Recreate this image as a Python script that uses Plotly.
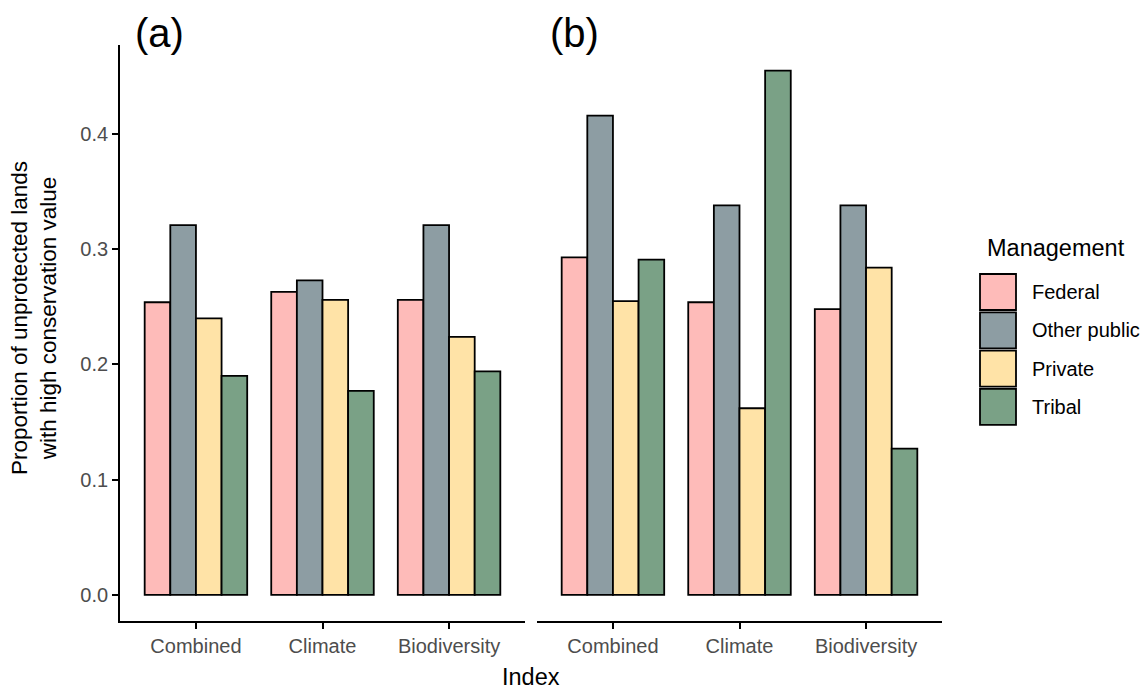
import plotly.graph_objects as go

# ---- data ----
categories = ["Combined", "Climate", "Biodiversity"]
management = ["Federal", "Other public", "Private", "Tribal"]
colors = ["#FEBBB9", "#8D9DA3", "#FFE3A7", "#7AA186"]

# panel (a): values per management class across categories
panel_a = {
    "Federal":      [0.254, 0.263, 0.256],
    "Other public": [0.321, 0.273, 0.321],
    "Private":      [0.240, 0.256, 0.224],
    "Tribal":       [0.190, 0.177, 0.194],
}
# panel (b)
panel_b = {
    "Federal":      [0.293, 0.254, 0.248],
    "Other public": [0.416, 0.338, 0.338],
    "Private":      [0.255, 0.162, 0.284],
    "Tribal":       [0.291, 0.455, 0.127],
}
yticks = [0.0, 0.1, 0.2, 0.3, 0.4]
ytick_text = ["0.0", "0.1", "0.2", "0.3", "0.4"]

# ---- geometry (pixels) ----
W, H = 1147, 693
L, R, T, B = 120, 942, 45, 621
XA_END, XB_START = 525, 537


def px_x(p):
    return (p - L) / (R - L)


def px_y(p):
    return (B - p) / (B - T)


fig = go.Figure()
for name, col in zip(management, colors):
    fig.add_trace(go.Bar(x=categories, y=panel_a[name], name=name,
                         marker=dict(color=col, line=dict(color="black", width=1.8)),
                         xaxis="x", yaxis="y", offsetgroup=name, showlegend=False))
    fig.add_trace(go.Bar(x=categories, y=panel_b[name], name=name,
                         marker=dict(color=col, line=dict(color="black", width=1.8)),
                         xaxis="x2", yaxis="y2", offsetgroup=name, showlegend=False))

tickfont = dict(family="Liberation Sans, Arial, sans-serif", size=20, color="#4d4d4d")
yr = [-0.0227, 0.4773]
xaxis_common = dict(type="category", range=[-0.6, 2.6], showline=True, linecolor="black",
                    linewidth=1.8, ticks="outside", ticklen=6, tickwidth=1.8, tickcolor="black",
                    tickfont=tickfont, showgrid=False, zeroline=False, fixedrange=True)

fig.update_layout(
    width=W, height=H,
    margin=dict(l=L, r=W - R, t=T, b=H - B, pad=0),
    paper_bgcolor="white", plot_bgcolor="white",
    barmode="group", bargap=0.19, bargroupgap=0,
    font=dict(family="Liberation Sans, Arial, sans-serif", color="black"),
    xaxis=dict(domain=[0, px_x(XA_END)], anchor="y", **xaxis_common),
    xaxis2=dict(domain=[px_x(XB_START), 1], anchor="y2", **xaxis_common),
    yaxis=dict(range=yr, tickvals=yticks, ticktext=ytick_text, showline=True,
               linecolor="black", linewidth=1.8, ticks="outside", ticklen=6, tickwidth=1.8,
               tickcolor="black", tickfont=tickfont, showgrid=False, zeroline=False,
               anchor="x"),
    yaxis2=dict(range=yr, showline=False, showticklabels=False, ticks="", showgrid=False,
                zeroline=False, anchor="x2", matches="y"),
)

annotations = [
    dict(text="(a)", x=px_x(133), y=px_y(33), xref="paper", yref="paper",
         xanchor="left", yanchor="middle", showarrow=False, font=dict(size=40, color="black")),
    dict(text="(b)", x=px_x(548), y=px_y(33), xref="paper", yref="paper",
         xanchor="left", yanchor="middle", showarrow=False, font=dict(size=40, color="black")),
    dict(text="Index", x=px_x(531), y=px_y(677), xref="paper", yref="paper",
         xanchor="center", yanchor="middle", showarrow=False, font=dict(size=23.5, color="black")),
    dict(text="Proportion of unprotected lands<br>with high conservation value",
         x=px_x(34), y=px_y(318), xref="paper", yref="paper", textangle=-90,
         xanchor="center", yanchor="middle", showarrow=False, font=dict(size=22.5, color="black")),
    dict(text="Management", x=px_x(985), y=px_y(248), xref="paper", yref="paper",
         xanchor="left", yanchor="middle", showarrow=False, font=dict(size=23.5, color="black")),
]

# custom legend with large square keys
shapes = []
key_top0, key_step, key_size = 274, 38.3, 36
for i, (name, col) in enumerate(zip(management, colors)):
    top = key_top0 + i * key_step
    shapes.append(dict(type="rect", xref="paper", yref="paper",
                       x0=px_x(980), x1=px_x(980 + key_size),
                       y0=px_y(top + key_size), y1=px_y(top),
                       fillcolor=col, line=dict(color="black", width=1.8)))
    annotations.append(dict(text=name, x=px_x(1030), y=px_y(top + key_size / 2),
                            xref="paper", yref="paper", xanchor="left", yanchor="middle",
                            showarrow=False, font=dict(size=20, color="black")))

fig.update_layout(annotations=annotations, shapes=shapes)
fig.write_html("out.html", config={"displayModeBar": False},
               post_script="document.body.style.margin='0';document.body.style.overflow='hidden';")
